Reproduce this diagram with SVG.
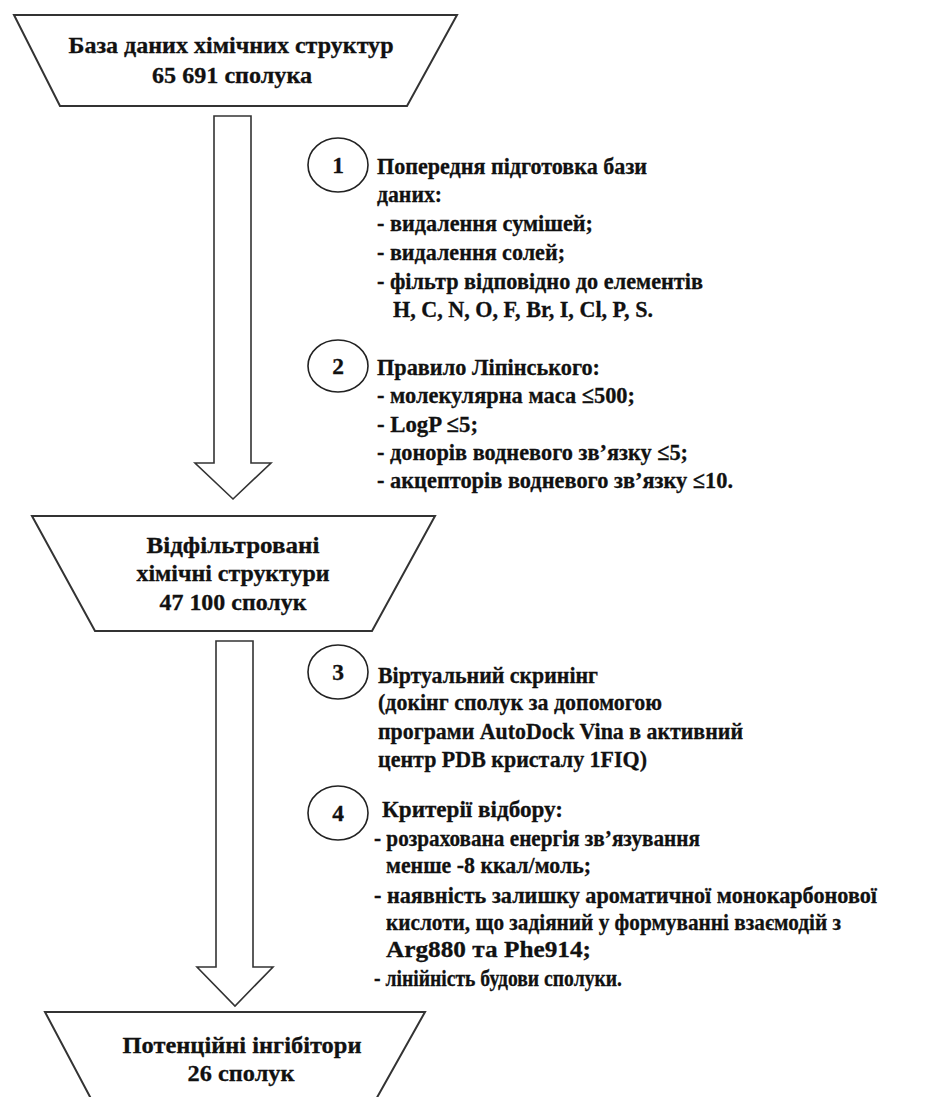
<svg xmlns="http://www.w3.org/2000/svg" width="928" height="1097" viewBox="0 0 928 1097">
<style>
.shape{fill:#fff;stroke:#333;stroke-width:2;stroke-linejoin:miter}
.arrow{fill:#fff;stroke:#333;stroke-width:1.6;stroke-linejoin:miter}
.circ{fill:#fff;stroke:#222;stroke-width:1.6}
text{font-family:"Liberation Serif","Times New Roman",serif;font-weight:bold;font-size:23.5px;fill:#111;stroke:#111;stroke-width:0.3}
.c{text-anchor:middle}
</style>
<rect width="928" height="1097" fill="#fff"/>
<g id="connectors">
<polygon class="arrow" points="214,116 251,116 251,463 271,463 233,499 195,463 214,463"/>
<polygon class="arrow" points="216,641 253,641 253,967 273,967 235,1006 197,967 216,967"/>
</g>
<g id="node-db">
<polygon class="shape" points="14,15 457,15 407,106 60,106"/>
<text class="c" x="231" y="53" textLength="325" lengthAdjust="spacingAndGlyphs">База даних хімічних структур</text>
<text class="c" x="232" y="83" textLength="160" lengthAdjust="spacingAndGlyphs">65 691 сполука</text>
</g>
<g id="node-filtered">
<polygon class="shape" points="32,516 435,516 372,631 95,631"/>
<text class="c" x="233" y="553" textLength="173" lengthAdjust="spacingAndGlyphs">Відфільтровані</text>
<text class="c" x="233" y="581" textLength="193" lengthAdjust="spacingAndGlyphs">хімічні структури</text>
<text class="c" x="233" y="610" textLength="147" lengthAdjust="spacingAndGlyphs">47 100 сполук</text>
</g>
<g id="node-inhibitors">
<polygon class="shape" points="45,1012 425,1012 370,1110 97,1110"/>
<text class="c" x="242" y="1053" textLength="239" lengthAdjust="spacingAndGlyphs">Потенційні інгібітори</text>
<text class="c" x="241" y="1081" textLength="107" lengthAdjust="spacingAndGlyphs">26 сполук</text>
</g>
<g id="step-1">
<ellipse class="circ" cx="338" cy="165" rx="30" ry="27"/>
<text class="c" x="338" y="173">1</text>
<text x="377" y="174" textLength="270" lengthAdjust="spacingAndGlyphs">Попередня підготовка бази</text>
<text x="377" y="202" textLength="65" lengthAdjust="spacingAndGlyphs">даних:</text>
<text x="377" y="231" textLength="216" lengthAdjust="spacingAndGlyphs">- видалення сумішей;</text>
<text x="377" y="260" textLength="188" lengthAdjust="spacingAndGlyphs">- видалення солей;</text>
<text x="377" y="289" textLength="326" lengthAdjust="spacingAndGlyphs">- фільтр відповідно до елементів</text>
<text x="393" y="317" textLength="260" lengthAdjust="spacingAndGlyphs">H, C, N, O, F, Br, I, Cl, P, S.</text>
</g>
<g id="step-2">
<ellipse class="circ" cx="338" cy="366" rx="30" ry="26"/>
<text class="c" x="338" y="374">2</text>
<text x="377" y="375" textLength="223" lengthAdjust="spacingAndGlyphs">Правило  Ліпінського:</text>
<text x="377" y="403" textLength="258" lengthAdjust="spacingAndGlyphs">- молекулярна маса ≤500;</text>
<text x="377" y="432" textLength="101" lengthAdjust="spacingAndGlyphs">- LogP ≤5;</text>
<text x="377" y="460" textLength="311" lengthAdjust="spacingAndGlyphs">- донорів  водневого зв’язку ≤5;</text>
<text x="377" y="488" textLength="356" lengthAdjust="spacingAndGlyphs">- акцепторів водневого зв’язку ≤10.</text>
</g>
<g id="step-3">
<ellipse class="circ" cx="338" cy="672" rx="30" ry="27"/>
<text class="c" x="338" y="680">3</text>
<text x="378" y="683" textLength="220" lengthAdjust="spacingAndGlyphs">Віртуальний скринінг</text>
<text x="378" y="710" textLength="284" lengthAdjust="spacingAndGlyphs">(докінг сполук за допомогою</text>
<text x="378" y="739" textLength="365" lengthAdjust="spacingAndGlyphs">програми  AutoDock Vina в  активний</text>
<text x="378" y="767" textLength="269" lengthAdjust="spacingAndGlyphs">центр PDB кристалу  1FIQ)</text>
</g>
<g id="step-4">
<ellipse class="circ" cx="338" cy="813" rx="30" ry="27"/>
<text class="c" x="338" y="821">4</text>
<text x="382" y="817" textLength="181" lengthAdjust="spacingAndGlyphs">Критерії відбору:</text>
<text x="374" y="846" textLength="326" lengthAdjust="spacingAndGlyphs">- розрахована  енергія зв’язування</text>
<text x="386" y="873" textLength="205" lengthAdjust="spacingAndGlyphs">менше -8 ккал/моль;</text>
<text x="374" y="903" textLength="503" lengthAdjust="spacingAndGlyphs">- наявність залишку ароматичної монокарбонової</text>
<text x="386" y="930" textLength="455" lengthAdjust="spacingAndGlyphs">кислоти, що задіяний у формуванні взаємодій з</text>
<text x="386" y="957" textLength="205" lengthAdjust="spacingAndGlyphs">Arg880  та Phe914;</text>
<text x="374" y="986" textLength="248" lengthAdjust="spacingAndGlyphs">- лінійність будови сполуки.</text>
</g>
</svg>
